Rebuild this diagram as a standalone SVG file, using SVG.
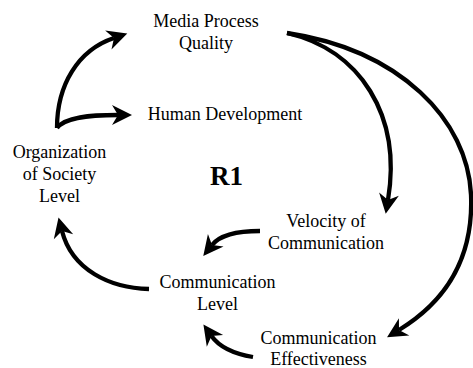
<svg xmlns="http://www.w3.org/2000/svg" width="473" height="368" viewBox="0 0 473 368">
  <defs>
    <marker id="head" markerUnits="userSpaceOnUse" markerWidth="20" markerHeight="20" viewBox="0 -10 20 20" refX="6" refY="0" orient="auto" overflow="visible">
      <path d="M0,-10 L20,0 L0,10 L6,0 Z" fill="#000"/>
    </marker>
    <style>
      text { font-family: 'Liberation Serif', 'DejaVu Serif', serif; fill: #000; text-anchor: middle; }
      .lbl { font-size: 18px; }
      .loop { font-size: 27px; font-weight: bold; }
      .edge { fill: none; stroke: #000; stroke-width: 4.3; marker-end: url(#head); }
    </style>
  </defs>
  <rect width="473" height="368" fill="#fff"/>

  <g id="connectors">
    <path class="edge" d="M57,128 C57,85 78,50 114,38"/>
    <path class="edge" d="M57,128 C65,117 90,115 118,115"/>
    <path class="edge" d="M287,33 C360,50 402,115 388,200"/>
    <path class="edge" d="M287,33 C400,50 468,120 471,195 C474,265 440,305 399,330"/>
    <path class="edge" d="M260,231 C238,231 220,235 212,245"/>
    <path class="edge" d="M149,289 C110,288 72,270 62,231"/>
    <path class="edge" d="M253,357 C235,354 220,348 211.5,336"/>
  </g>

  <g id="media-process-quality">
    <text class="lbl" x="206" y="27" font-family="Liberation Serif">Media Process</text>
    <text class="lbl" x="206" y="49" font-family="Liberation Serif">Quality</text>
  </g>
  <g id="human-development">
    <text class="lbl" x="225" y="120">Human Development</text>
  </g>
  <g id="organization-of-society-level">
    <text class="lbl" x="59.5" y="158">Organization</text>
    <text class="lbl" x="59.5" y="180">of Society</text>
    <text class="lbl" x="59.5" y="202">Level</text>
  </g>
  <g id="loop-r1">
    <text class="loop" x="226.5" y="185">R1</text>
  </g>
  <g id="velocity-of-communication">
    <text class="lbl" x="326" y="227">Velocity of</text>
    <text class="lbl" x="326" y="249">Communication</text>
  </g>
  <g id="communication-level">
    <text class="lbl" x="217.5" y="288">Communication</text>
    <text class="lbl" x="217.5" y="310">Level</text>
  </g>
  <g id="communication-effectiveness">
    <text class="lbl" x="318.5" y="344">Communication</text>
    <text class="lbl" x="318.5" y="365">Effectiveness</text>
  </g>
</svg>
